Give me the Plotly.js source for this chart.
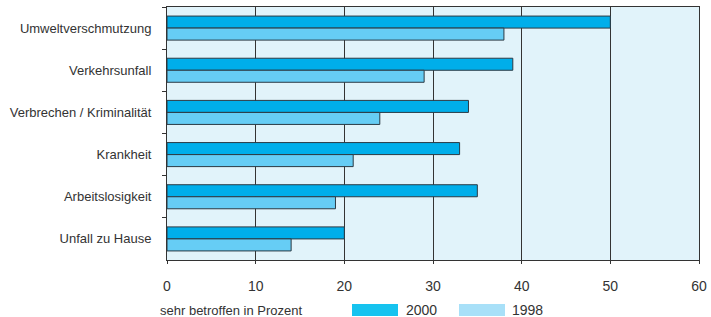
<!DOCTYPE html>
<html><head><meta charset="utf-8">
<script src="https://cdn.plot.ly/plotly-3.0.1.min.js"></script>
<style>body{margin:0;background:#fff}#c{width:711px;height:317px}</style>
</head><body><div id="c"></div>
<script>
const categories = ["Umweltverschmutzung","Verkehrsunfall","Verbrechen / Kriminalität","Krankheit","Arbeitslosigkeit","Unfall zu Hause"];
const values2000 = [50, 39, 34, 33, 35, 20];
const values1998 = [38, 29, 24, 21, 19, 14];
const xTicks = [0, 10, 20, 30, 40, 50, 60];
const seriesNames = ["2000", "1998"];
const axisTitle = "sehr betroffen in Prozent";

const FONT = "Liberation Sans Narrow, Arial Narrow, sans-serif";
const L = 167, R = 12, T = 7, B = 57, W = 711, H = 317;
const pw = W - L - R, ph = H - T - B;
const px = x => (x - L) / pw;
const py = y => (H - B - y) / ph;

const traces = [
  {type:"bar", orientation:"h", name:seriesNames[0], y:categories, x:values2000,
   marker:{color:"#00aeea", line:{color:"#2b3a44", width:1}}, hoverinfo:"x"},
  {type:"bar", orientation:"h", name:seriesNames[1], y:categories, x:values1998,
   marker:{color:"#66cdf5", line:{color:"#2b3a44", width:1}}, hoverinfo:"x"}
];

const layout = {
  width: W, height: H,
  margin:{l:L, r:R, t:T, b:B, pad:0},
  paper_bgcolor:"#ffffff", plot_bgcolor:"#e1f3fa",
  showlegend:false,
  barmode:"group", bargap:0.43, bargroupgap:0,
  font:{family:FONT, size:13, color:"#333333"},
  xaxis:{range:[0,60], tickvals:xTicks, ticktext:xTicks.map(String),
    showgrid:true, gridcolor:"#333333", gridwidth:1, zeroline:false,
    showline:true, linecolor:"#333333", linewidth:1, mirror:true,
    ticks:"outside", ticklen:3, tickcolor:"#333333", ticklabelstandoff:10,
    tickfont:{family:FONT, size:14, color:"#333333"}, fixedrange:true},
  yaxis:{autorange:"reversed", type:"category", tickson:"boundaries",
    showgrid:false, zeroline:false, showline:true, linecolor:"#333333", linewidth:1, mirror:true,
    ticks:"outside", ticklen:4, tickcolor:"#333333", ticklabelstandoff:12,
    tickfont:{family:FONT, size:13, color:"#333333"}, fixedrange:true},
  annotations:[
    {xref:"paper", yref:"paper", x:px(158), y:py(310), xanchor:"left", yanchor:"middle",
     text:axisTitle, showarrow:false, font:{family:FONT, size:13, color:"#333333"}},
    {xref:"paper", yref:"paper", x:px(404), y:py(310), xanchor:"left", yanchor:"middle",
     text:seriesNames[0], showarrow:false, font:{family:FONT, size:14, color:"#333333"}},
    {xref:"paper", yref:"paper", x:px(510), y:py(310), xanchor:"left", yanchor:"middle",
     text:seriesNames[1], showarrow:false, font:{family:FONT, size:14, color:"#333333"}}
  ],
  shapes:[
    {type:"rect", xref:"paper", yref:"paper", x0:px(352), x1:px(398), y0:py(304), y1:py(316),
     fillcolor:"#16c3ef", line:{width:0}},
    {type:"rect", xref:"paper", yref:"paper", x0:px(459), x1:px(505), y0:py(304), y1:py(316),
     fillcolor:"#a8e0f8", line:{width:0}}
  ]
};
Plotly.newPlot("c", traces, layout, {displayModeBar:false, staticPlot:true});
</script></body></html>
